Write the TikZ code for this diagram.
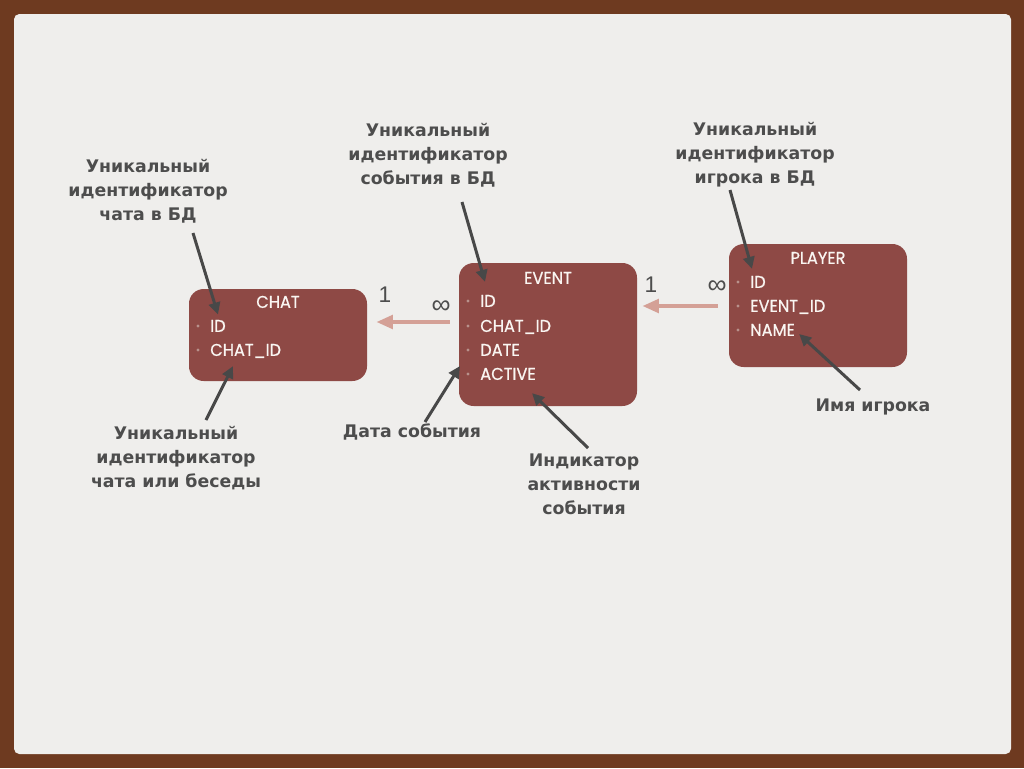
\documentclass[tikz,border=0pt]{standalone}
\usepackage{fontspec}
\setmainfont{DejaVu Sans}
\newfontfamily\boxfont{Poppins}[FakeBold=0.7,FakeStretch=0.95]
\newfontfamily\numfont{Liberation Sans}
\usetikzlibrary{arrows.meta}

\definecolor{framebrown}{RGB}{110,58,32}
\definecolor{paper}{RGB}{239,238,236}
\definecolor{entityred}{RGB}{142,73,69}
\definecolor{fieldtext}{RGB}{250,246,242}
\definecolor{bulletdot}{RGB}{184,146,140}
\definecolor{notegray}{RGB}{77,77,77}
\definecolor{arrowgray}{RGB}{72,72,72}
\definecolor{relpink}{RGB}{212,160,150}

\begin{document}
\begin{tikzpicture}[x=0.75pt, y=-0.75pt,
  entity/.style={fill=entityred, rounded corners=11pt, minimum width=133.5pt, inner sep=0pt},
  title/.style={inner sep=0pt, text height=8.8pt, text depth=0pt, text=fieldtext, font=\boxfont\fontsize{12.8}{13}\selectfont},
  field/.style={title, anchor=west},
  note/.style={align=center, inner sep=0pt, text=notegray, font=\bfseries\fontsize{13}{18}\selectfont},
  card/.style={inner sep=0pt, text=notegray, font=\numfont\fontsize{17}{17}\selectfont},
  many/.style={card, font=\numfont\fontsize{20}{20}\selectfont},
  callout/.style={draw=arrowgray, line width=2.25pt, -{Triangle[length=9pt,width=8.5pt]}},
  rel/.style={draw=relpink, line width=3.2pt, -{Triangle[length=12.5pt,width=10pt]}}
]
\useasboundingbox (0,0) rectangle (1024,768);
\fill[framebrown] (0,0) rectangle (1024,768);
\fill[paper, rounded corners=4pt] (14,14) rectangle (1011,754);

% tables
\node (chat) [entity, minimum height=69pt] at (278,335) {};
\node (event) [entity, minimum height=107.25pt] at (548,334.5) {};
\node (player) [entity, minimum height=92.25pt] at (818,305.5) {};

\node (chattitle) [title] at (278,302) {CHAT};
\node (chatid) [field] at (210,326) {ID};
\node (chatcid) [field] at (210,350) {CHAT\_ID};

\node (eventtitle) [title] at (548,278) {EVENT};
\node (evid) [field] at (480,301) {ID};
\node (evcid) [field] at (480,326) {CHAT\_ID};
\node (evdate) [field] at (480,350) {DATE};
\node (evactive) [field] at (480,374) {ACTIVE};

\node (playertitle) [title] at (818,258) {PLAYER};
\node (plid) [field] at (750,282) {ID};
\node (plevid) [field] at (750,306) {EVENT\_ID};
\node (plname) [field] at (750,330) {NAME};

\fill[bulletdot] ([xshift=-9pt]chatid.west) circle (1.6);
\fill[bulletdot] ([xshift=-9pt]chatcid.west) circle (1.6);
\fill[bulletdot] ([xshift=-9pt]evid.west) circle (1.6);
\fill[bulletdot] ([xshift=-9pt]evcid.west) circle (1.6);
\fill[bulletdot] ([xshift=-9pt]evdate.west) circle (1.6);
\fill[bulletdot] ([xshift=-9pt]evactive.west) circle (1.6);
\fill[bulletdot] ([xshift=-9pt]plid.west) circle (1.6);
\fill[bulletdot] ([xshift=-9pt]plevid.west) circle (1.6);
\fill[bulletdot] ([xshift=-9pt]plname.west) circle (1.6);

% relations
\draw[rel] ([shift={(-9,-12.5)}]event.west) -- ([shift={(9,-13)}]chat.east);
\draw[rel] ([shift={(-11,0.5)}]player.west) -- ([shift={(5,-28.5)}]event.east);
\node (one1) [card] at (385,295) {1};
\node (many1) [many] at (441,307) {∞};
\node (one2) [card] at (651,285) {1};
\node (many2) [many] at (717,287) {∞};

% notes
\node (lchatid) [note] at (148,191) {Уникальный\\идентификатор\\чата в БД};
\node (lchatcid) [note] at (176,458) {Уникальный\\идентификатор\\чата или беседы};
\node (levid) [note] at (428,155) {Уникальный\\идентификатор\\события в БД};
\node (ldate) [note] at (412,432) {Дата события};
\node (lactive) [note] at (584,484) {Индикатор\\активности\\события};
\node (lplid) [note] at (755,155) {Уникальный\\идентификатор\\игрока в БД};
\node (lname) [note] at (873,407) {Имя игрока};

\draw[callout] ([shift={(45,42)}]lchatid.center) -- ([yshift=4pt]chatid.north);
\draw[callout] ([shift={(30,-38)}]lchatcid.center) -- ([shift={(23,10)}]chatcid.south west);
\draw[callout] ([shift={(34,47)}]levid.center) -- ([shift={(5,-13)}]evid.north west);
\draw[callout] ([shift={(13,-10)}]ldate.center) -- ([shift={(-20,-8)}]evactive.west);
\draw[callout] ([shift={(4,-36)}]lactive.center) -- ([shift={(52,13)}]evactive.south west);
\draw[callout] ([shift={(-25,35)}]lplid.center) -- ([shift={(2,-7)}]plid.north west);
\draw[callout] ([shift={(-13,-17)}]lname.center) -- ([shift={(4,4)}]plname.east);
\end{tikzpicture}
\end{document}
